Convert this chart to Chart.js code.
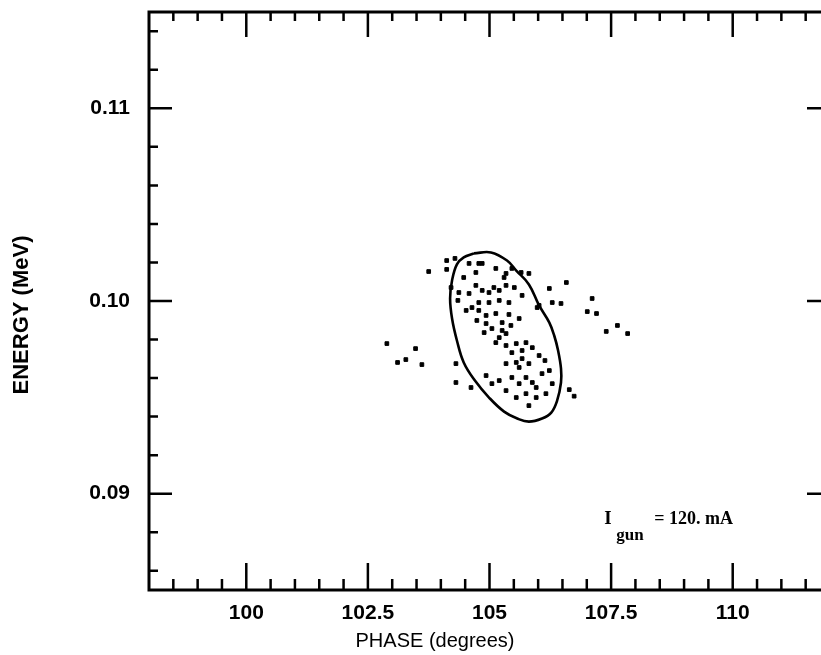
<!DOCTYPE html>
<html>
<head>
<meta charset="utf-8">
<script src="https://cdn.jsdelivr.net/npm/chart.js@4.4.1/dist/chart.umd.min.js"></script>
<style>
  html, body { margin: 0; padding: 0; background: #fff; overflow: hidden; width: 821px; height: 655px; }
  #wrap { position: absolute; left: 0; top: 0; width: 840px; height: 655px; }
</style>
</head>
<body>
<div id="wrap"><canvas id="c" width="840" height="655"></canvas></div>
<script>
// ---- data ----
const xRange = [98, 112];
const yRange = [0.085, 0.115];
const xTickLabels = [100, 102.5, 105, 107.5, 110];
const yTickLabels = [0.09, 0.10, 0.11];

// particle phase (degrees)
const phase = [
  102.89,103.11,103.28,103.48,103.61,103.75,104.12,104.12,104.29,104.58,
  104.78,104.47,104.72,105.13,105.34,105.46,105.65,105.81,104.21,104.37,
  104.35,104.58,104.72,104.85,104.99,105.09,105.20,105.34,105.51,105.67,
  105.40,105.20,104.99,104.78,104.64,104.52,104.78,104.93,105.13,105.40,
  105.61,106.02,104.93,105.05,105.26,105.34,105.20,105.13,105.34,105.55,
  105.75,105.88,105.67,105.46,105.34,105.55,105.67,105.81,105.61,104.31,
  104.31,104.62,104.93,105.05,105.20,105.34,105.46,105.61,105.75,105.88,
  105.96,106.08,106.23,106.29,105.55,105.75,105.96,106.16,105.81,106.23,
  106.29,106.47,106.58,107.11,107.01,107.20,107.40,107.63,107.84,106.64,
  106.74,105.30,105.98,104.85,105.26,104.89,104.74,105.44,106.02,106.14
];
// particle energy (MeV)
const energy = [
  0.09779,0.09681,0.09696,0.09753,0.09670,0.10153,0.10210,0.10164,0.10221,0.10195,
  0.10195,0.10122,0.10148,0.10169,0.10143,0.10169,0.10148,0.10143,0.10070,0.10044,
  0.10003,0.10039,0.10081,0.10055,0.10044,0.10070,0.10055,0.10081,0.10070,0.10029,
  0.09992,0.10003,0.09992,0.09992,0.09966,0.09951,0.09951,0.09925,0.09935,0.09930,
  0.09909,0.09977,0.09883,0.09857,0.09888,0.09831,0.09810,0.09784,0.09769,0.09779,
  0.09784,0.09758,0.09743,0.09732,0.09675,0.09681,0.09701,0.09675,0.09655,0.09675,
  0.09577,0.09551,0.09613,0.09571,0.09587,0.09535,0.09603,0.09571,0.09603,0.09577,
  0.09551,0.09623,0.09639,0.09571,0.09499,0.09519,0.09499,0.09519,0.09457,0.10065,
  0.09992,0.09987,0.10096,0.10013,0.09945,0.09935,0.09842,0.09873,0.09831,0.09540,
  0.09506,0.10122,0.09966,0.10195,0.09847,0.09836,0.09899,0.09873,0.09717,0.09691
];

// emittance ellipse outline
const ellipsePhase = [
  104.68,105.03,105.36,105.55,105.81,106.02,106.23,106.33,106.41,106.47,
  106.47,106.39,106.27,106.08,105.81,105.57,105.30,104.99,104.70,104.47,
  104.33,104.23,104.19,104.23,104.33,104.47,104.68
];
const ellipseEnergy = [
  0.10247,0.10252,0.10210,0.10158,0.10086,0.09977,0.09888,0.09821,0.09743,0.09649,
  0.09577,0.09483,0.09421,0.09390,0.09374,0.09390,0.09426,0.09499,0.09587,0.09681,
  0.09795,0.09909,0.10013,0.10106,0.10190,0.10226,0.10247
];

const annotation = { main: 'I', sub: 'gun', rest: '= 120. mA', x: 107.36, y: 0.0884 };

// ---- build ----
const pts = phase.map((p, i) => ({ x: p, y: energy[i] }));
const ell = ellipsePhase.map((p, i) => ({ x: p, y: ellipseEnergy[i] }));

const xMinor = []; for (let k = 1; k <= 27; k++) xMinor.push(xRange[0] + k * 0.5);
const yMinor = []; for (let k = 0; k <= 14; k++) yMinor.push(0.086 + k * 0.002);
const xMajor = xTickLabels;
const yMajor = yTickLabels;

const framePlugin = {
  id: 'frame',
  afterDraw(chart) {
    const { ctx, chartArea: a, scales } = chart;
    const sx = scales.x, sy = scales.y;
    ctx.save();
    ctx.strokeStyle = '#000';
    ctx.lineCap = 'butt';
    ctx.lineWidth = 3;
    ctx.strokeRect(a.left, a.top, a.right - a.left, a.bottom - a.top);
    ctx.lineWidth = 2.5;
    const isMajor = (v, arr) => arr.some(m => Math.abs(m - v) < 1e-6);
    xMinor.forEach(v => {
      const px = sx.getPixelForValue(v);
      const lb = isMajor(v, xMajor) ? 27 : 11;
      const lt = isMajor(v, xMajor) ? 25 : 9;
      ctx.beginPath();
      ctx.moveTo(px, a.bottom); ctx.lineTo(px, a.bottom - lb);
      ctx.moveTo(px, a.top); ctx.lineTo(px, a.top + lt);
      ctx.stroke();
    });
    yMinor.forEach(v => {
      const py = sy.getPixelForValue(v);
      const l = isMajor(v, yMajor) ? 23 : 9;
      ctx.beginPath();
      ctx.moveTo(a.left, py); ctx.lineTo(a.left + l, py);
      ctx.moveTo(a.right, py); ctx.lineTo(a.right - l, py);
      ctx.stroke();
    });
    ctx.fillStyle = '#000';
    ctx.font = '20px "Liberation Sans", Arial, sans-serif';
    ctx.textAlign = 'center';
    ctx.textBaseline = 'middle';
    ctx.fillText('PHASE (degrees)', 435, 641);
    ctx.save();
    ctx.translate(22, 315);
    ctx.rotate(-Math.PI / 2);
    ctx.font = 'bold 22px "Liberation Sans", Arial, sans-serif';
    ctx.fillText('ENERGY (MeV)', 0, 0);
    ctx.restore();
    const ax = sx.getPixelForValue(annotation.x);
    const ay = sy.getPixelForValue(annotation.y);
    ctx.textAlign = 'left';
    ctx.textBaseline = 'alphabetic';
    ctx.font = 'bold 19px "Liberation Serif", serif';
    ctx.fillText(annotation.main, ax, ay);
    ctx.font = 'bold 17px "Liberation Serif", serif';
    ctx.fillText(annotation.sub, ax + 12, ay + 16);
    ctx.font = 'bold 18px "Liberation Serif", serif';
    ctx.fillText(annotation.rest, ax + 50, ay);
    ctx.restore();
  }
};

new Chart(document.getElementById('c'), {
  type: 'scatter',
  data: {
    datasets: [
      {
        label: 'particles',
        data: pts,
        backgroundColor: '#000',
        borderColor: '#000',
        pointRadius: 2.6,
        pointHoverRadius: 2.6,
        pointStyle: 'rect',
        showLine: false
      },
      {
        label: 'ellipse',
        data: ell,
        showLine: true,
        borderColor: '#000',
        borderWidth: 2.6,
        tension: 0.4,
        pointRadius: 0,
        fill: false
      }
    ]
  },
  options: {
    responsive: false,
    animation: false,
    events: [],
    layout: { padding: { top: 12, right: 10, left: 0, bottom: 0 } },
    plugins: { legend: { display: false }, tooltip: { enabled: false } },
    scales: {
      x: {
        type: 'linear', min: xRange[0], max: xRange[1],
        grid: { display: false, drawTicks: false },
        border: { display: false },
        afterBuildTicks: s => { s.ticks = xTickLabels.map(v => ({ value: v })); },
        afterFit: s => { s.height = 65; s.paddingLeft = 0; s.paddingRight = 0; },
        ticks: {
          padding: 11,
          color: '#000',
          font: { family: '"Liberation Sans", Arial, sans-serif', size: 21, weight: 'bold' },
          callback: v => String(v)
        }
      },
      y: {
        type: 'linear', min: yRange[0], max: yRange[1],
        grid: { display: false, drawTicks: false },
        border: { display: false },
        afterBuildTicks: s => { s.ticks = yTickLabels.map(v => ({ value: v })); },
        afterFit: s => { s.width = 149; s.paddingTop = 0; s.paddingBottom = 0; },
        ticks: {
          padding: 19,
          color: '#000',
          font: { family: '"Liberation Sans", Arial, sans-serif', size: 21, weight: 'bold' },
          callback: v => v.toFixed(2)
        }
      }
    }
  },
  plugins: [framePlugin]
});
</script>
</body>
</html>
